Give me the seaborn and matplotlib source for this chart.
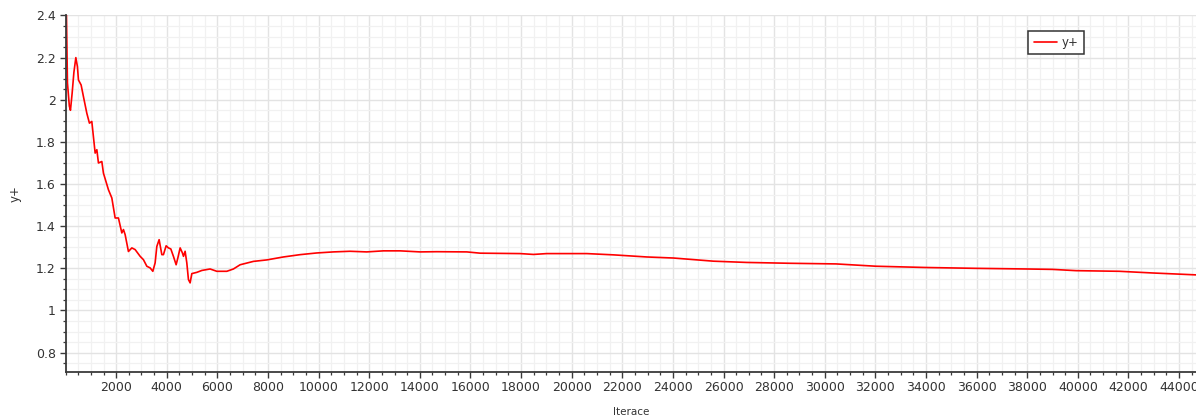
import matplotlib
matplotlib.use("Agg")
import matplotlib.pyplot as plt
from matplotlib.ticker import MultipleLocator, FixedLocator
import numpy as np
import pandas as pd
import seaborn as sns

# Residual history of y+ over solver iterations
iterations = [
    0, 30, 75, 150, 194, 260, 330, 407, 470, 510, 616, 707, 841, 944, 1038,
    1170, 1237, 1300, 1434, 1497, 1695, 1829, 1960, 2090, 2224, 2288, 2355,
    2485, 2620, 2750, 2948, 3078, 3212, 3343, 3449, 3540, 3607, 3698, 3805,
    3868, 3975, 4066, 4160, 4263, 4370, 4437, 4528, 4619, 4660, 4725, 4792,
    4856, 4923, 4990, 5188, 5386, 5713, 5977, 6373, 6634, 6898, 7424, 7952,
    8609, 9270, 9928, 10585, 11241, 11900, 12560, 13220, 14010, 14670, 15856,
    16381, 17962, 18489, 19015, 20596, 21648, 22966, 24020, 25600, 26918,
    28630, 30446, 32027, 34003, 35979, 37955, 39008, 39930, 41640, 42960,
    44670,
]
yplus = [
    3.20, 2.45, 2.08, 1.97, 1.95, 2.03, 2.13, 2.20, 2.157, 2.094, 2.07, 2.015,
    1.936, 1.889, 1.897, 1.747, 1.763, 1.700, 1.707, 1.652, 1.573, 1.534,
    1.439, 1.439, 1.368, 1.384, 1.360, 1.280, 1.297, 1.289, 1.257, 1.241,
    1.210, 1.202, 1.186, 1.226, 1.304, 1.336, 1.265, 1.265, 1.307, 1.297,
    1.292, 1.257, 1.217, 1.249, 1.297, 1.273, 1.257, 1.281, 1.226, 1.147,
    1.131, 1.175, 1.181, 1.190, 1.197, 1.186, 1.186, 1.197, 1.217, 1.233,
    1.240, 1.254, 1.265, 1.273, 1.278, 1.281, 1.278, 1.283, 1.283, 1.278,
    1.279, 1.278, 1.272, 1.270, 1.266, 1.270, 1.270, 1.264, 1.254, 1.249,
    1.234, 1.228, 1.224, 1.221, 1.210, 1.204, 1.200, 1.197, 1.195, 1.189,
    1.186, 1.178, 1.169,
]
series_name = "y+"
x_label = "Iterace"
y_label = "y+"

df = pd.DataFrame({"Iterace": iterations, "value": yplus, "series": series_name})

sns.set_theme(style="white")
plt.rcParams["font.family"] = ["DejaVu Sans"]

fig = plt.figure(figsize=(11.96, 4.18), dpi=100)
ax = fig.add_axes([0.0548, 0.111, 0.9452, 0.852])

sns.lineplot(data=df, x="Iterace", y="value", hue="series",
             palette={series_name: "#ff0000"}, linewidth=1.2, ax=ax,
             estimator=None, sort=False)

ax.set_xlim(0, 44670)
ax.set_ylim(0.71, 2.4)

ax.xaxis.set_major_locator(FixedLocator(np.arange(2000, 44001, 2000)))
ax.xaxis.set_minor_locator(MultipleLocator(500))
ax.yaxis.set_major_locator(MultipleLocator(0.2))
ax.yaxis.set_minor_locator(MultipleLocator(0.05))

def yfmt(v, _):
    s = f"{v:.1f}"
    return s[:-2] if s.endswith(".0") else s
ax.yaxis.set_major_formatter(plt.FuncFormatter(yfmt))

ax.grid(which="major", color="#e3e3e3", linewidth=1.0)
ax.grid(which="minor", color="#f1f1f1", linewidth=0.9)
ax.set_axisbelow(True)

for side in ("top", "right"):
    ax.spines[side].set_visible(False)
for side in ("left", "bottom"):
    ax.spines[side].set_color("#3a3a3a")
    ax.spines[side].set_linewidth(1.3)

ax.tick_params(which="major", direction="out", length=4, width=1.0,
               color="#3a3a3a", labelsize=9, labelcolor="#333333", pad=3)
ax.tick_params(which="minor", direction="out", length=2.5, width=0.9,
               color="#3a3a3a")
ax.tick_params(axis="x", which="both", bottom=True)
ax.tick_params(axis="y", which="both", left=True)

ax.set_xlabel(x_label, fontsize=7.5, color="#333333", labelpad=9)
ax.set_ylabel(y_label, fontsize=8.5, color="#333333", labelpad=10)

leg = ax.legend(loc="upper right", bbox_to_anchor=(0.901, 0.957),
                fontsize=8.5, frameon=True, fancybox=False, framealpha=1,
                edgecolor="#333333", handlelength=2.0, handletextpad=0.4,
                borderpad=0.45, borderaxespad=0)
leg.get_frame().set_linewidth(1.1)
for txt in leg.get_texts():
    txt.set_color("#333333")

fig.savefig("out.png", dpi=100, facecolor="white")
